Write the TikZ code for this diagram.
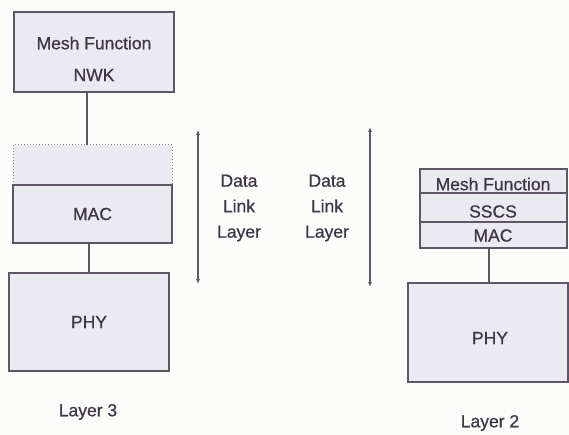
\documentclass[tikz,border=0pt]{standalone}
\usepackage{fontspec}
\setmainfont{Liberation Sans}
\newfontfamily\lblfont{Liberation Sans}[FakeBold=0.7]
\usetikzlibrary{arrows.meta}
\definecolor{ink}{HTML}{5E5566}
\definecolor{txt}{HTML}{3E3746}
\definecolor{boxfill}{HTML}{ECEAF1}
\definecolor{paper}{HTML}{FCFCFB}
\tikzset{
  layerbox/.style={draw=ink, fill=boxfill, line width=1.1pt},
  lbl/.style={text=txt, font=\lblfont\fontsize{17.5}{25.5}\selectfont, inner sep=0pt},
  link/.style={draw=ink, line width=1.1pt},
  span/.style={draw=ink, line width=1.3pt, {Latex[length=5pt,width=4pt]}-{Latex[length=5pt,width=4pt]}},
}
\begin{document}
\begin{tikzpicture}[x=1pt, y=-1pt]
  \fill[paper] (0,0) rectangle (569,435);
  \useasboundingbox (0,0) rectangle (569,435);

  % left stack (layer 3 mesh)
  \node[layerbox, minimum width=160pt, minimum height=80pt] (nwk) at (94,52) {};
  \node[lbl] (nwkA) at (94,43) {Mesh Function};
  \node[lbl] (nwkB) at (94,75) {NWK};

  \fill[boxfill] (13,145) rectangle (172,185);
  \draw[ink!70, line width=1pt, dotted] (13,185) -- (13,145) -- (172,145) -- (172,185);
  \coordinate (upperS) at (92.5,145);
  \node[layerbox, minimum width=159pt, minimum height=58pt] (mac) at (92.5,214) {};
  \node[lbl] (macL) at (mac.center) {MAC};

  \node[layerbox, minimum width=160pt, minimum height=98pt] (phyL) at (89,322) {};
  \node[lbl] (phyLt) at (phyL.center) {PHY};

  \node[lbl] (lay3) at (88,412) {Layer 3};

  \draw[link] (nwk.south -| 87,0) -- (upperS -| 87,0);
  \draw[link] (mac.south -| 89,0) -- (phyL.north -| 89,0);

  % data link layer spans
  \coordinate (a1) at (198,130);
  \coordinate (a2) at (198,284);
  \coordinate (b1) at (370,127);
  \coordinate (b2) at (370,287);
  \draw[span] (a1) -- (a2);
  \draw[span] (b1) -- (b2);
  \node[lbl, align=center] (dllA) at (239,208) {Data\\Link\\Layer};
  \node[lbl, align=center] (dllB) at (327,208) {Data\\Link\\Layer};

  % right stack (layer 2 mesh)
  \node[layerbox, minimum width=147pt, minimum height=79pt] (stk) at (493.5,208.5) {};
  \draw[ink, line width=1.1pt] (stk.west |- 0,193) -- (stk.east |- 0,193);
  \draw[ink, line width=1.1pt] (stk.west |- 0,222) -- (stk.east |- 0,222);
  \node[lbl] (mf) at (493,184) {Mesh Function};
  \node[lbl] (sscs) at (493,211.5) {SSCS};
  \node[lbl] (mac2) at (493,235.5) {MAC};

  \node[layerbox, minimum width=160pt, minimum height=99pt] (phyR) at (488,332.5) {};
  \node[lbl] (phyRt) at (490,338) {PHY};
  \node[lbl] (lay2) at (490,423) {Layer 2};

  \draw[link] (stk.south -| 489,0) -- (phyR.north -| 489,0);
\end{tikzpicture}
\end{document}
